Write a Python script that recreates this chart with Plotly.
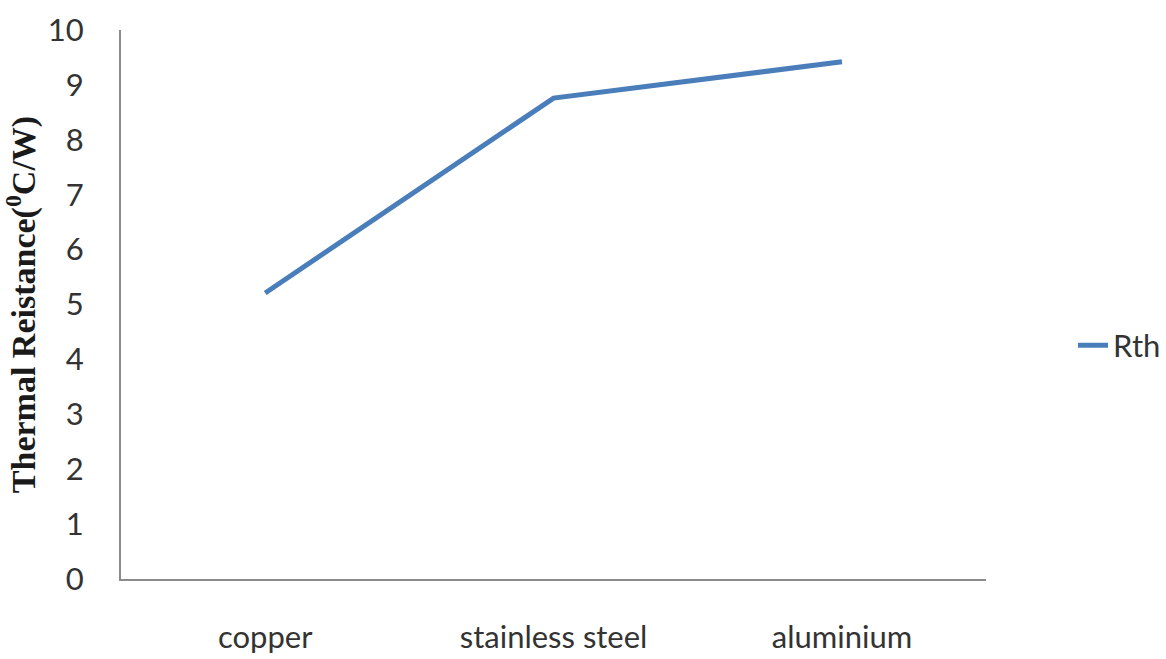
import plotly.graph_objects as go

# Thermal resistance of the heat-pipe material options
materials = ["copper", "stainless steel", "aluminium"]
rth_values = [5.21, 8.76, 9.42]
y_ticks = list(range(0, 11))

tick_font = dict(family="Lato, 'Open Sans', sans-serif", size=31, color="#333333")

fig = go.Figure()
fig.add_trace(go.Scatter(
    x=materials,
    y=rth_values,
    mode="lines",
    name="Rth",
    line=dict(color="#4A7EBB", width=5),
))

fig.update_layout(
    width=1166,
    height=659,
    margin=dict(l=121, r=0, t=30, b=80),
    paper_bgcolor="white",
    plot_bgcolor="white",
    showlegend=True,
    legend=dict(
        x=0.912, y=0.425, xanchor="left", yanchor="middle",
        font=tick_font,
        bgcolor="rgba(0,0,0,0)",
    ),
    xaxis=dict(
        type="category",
        domain=[0, 0.8287],
        range=[-0.5, 2.5],
        showline=True, linecolor="#8a8a8a", linewidth=2,
        showgrid=False, zeroline=False, ticks="",
        tickfont=tick_font,
        ticklabelstandoff=30,
    ),
    yaxis=dict(
        range=[0, 10],
        tickvals=y_ticks,
        ticktext=[str(v) for v in y_ticks],
        showline=True, linecolor="#8a8a8a", linewidth=2,
        showgrid=False, zeroline=False, ticks="",
        tickfont=tick_font,
        ticklabelstandoff=29,
        title=dict(
            text="Thermal Reistance(<sup>0</sup>C/W)",
            font=dict(family="'Liberation Serif', 'Times New Roman', serif",
                      size=34, color="#1a1a1a", weight="bold"),
            standoff=6,
        ),
    ),
)

fig.write_html("out.html")
